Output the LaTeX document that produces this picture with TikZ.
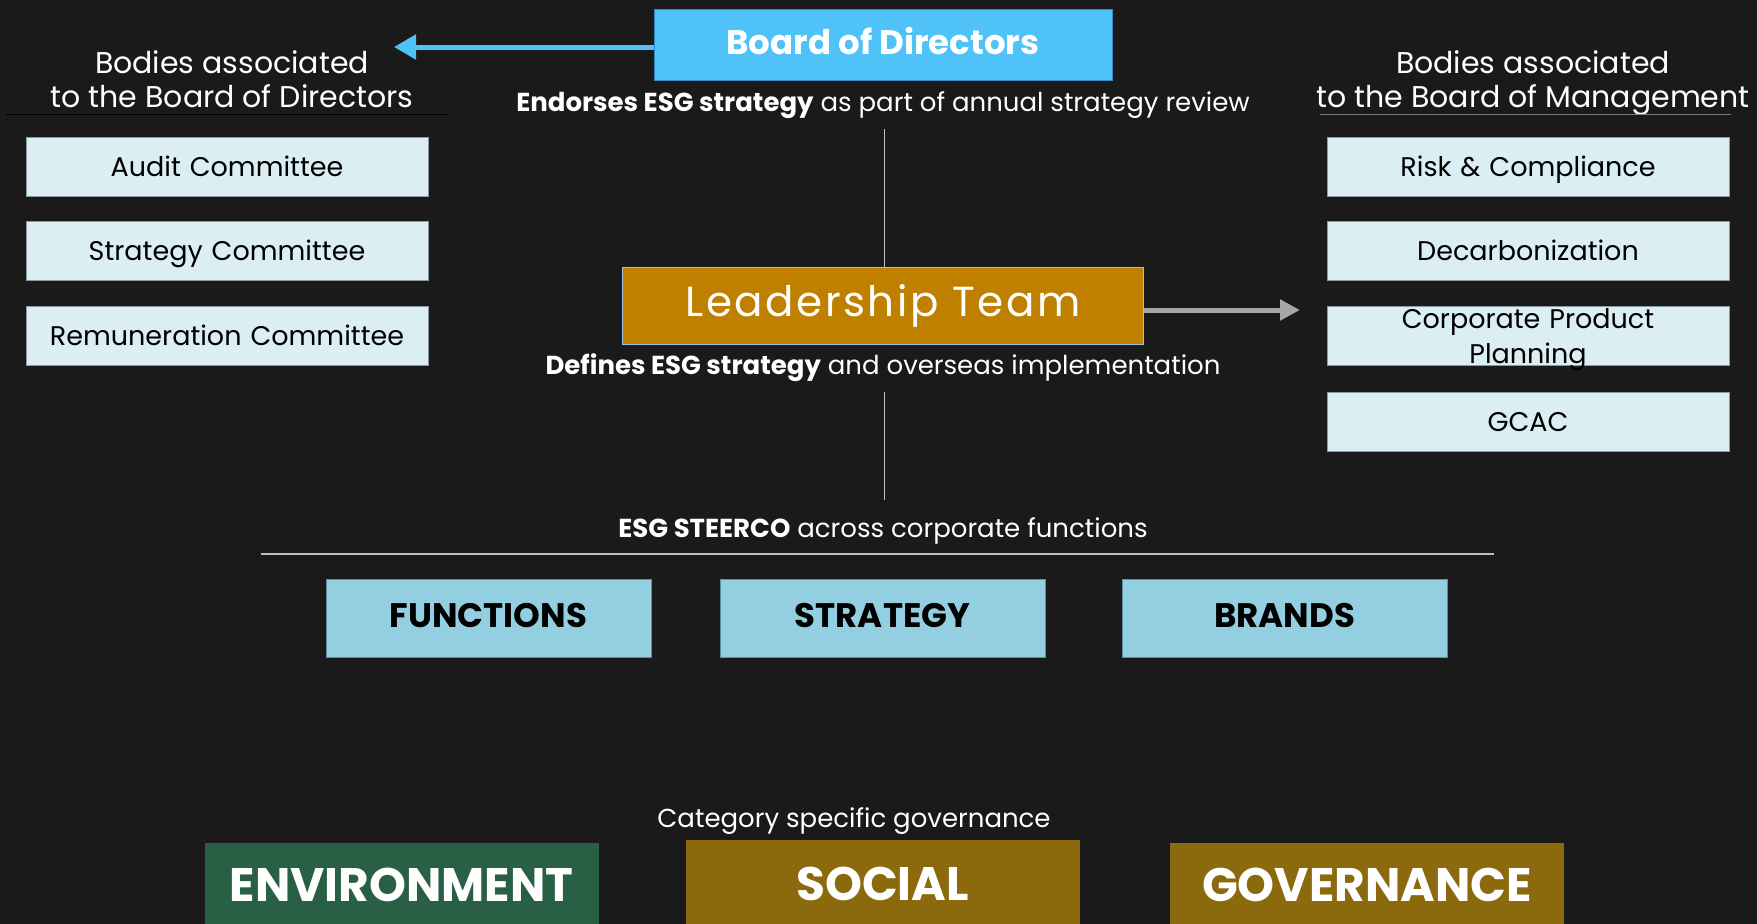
\documentclass[tikz,border=0pt]{standalone}
\usepackage{fontspec}
\setmainfont{Poppins}
\usetikzlibrary{arrows.meta}
\definecolor{bgdark}{HTML}{1A1A1A}
\definecolor{boardblue}{HTML}{4FC3F7}
\definecolor{boardedge}{HTML}{2E8FC0}
\definecolor{paleblue}{HTML}{DAEEF3}
\definecolor{paleedge}{HTML}{8A9A9E}
\definecolor{leadgold}{HTML}{BF8000}
\definecolor{leadedge}{HTML}{9DC3E6}
\definecolor{steerblue}{HTML}{94CFE1}
\definecolor{steeredge}{HTML}{5F8E9C}
\definecolor{envgreen}{HTML}{285F45}
\definecolor{ochre}{HTML}{8B6A0E}
\definecolor{arrowgray}{HTML}{A6A6A6}
\definecolor{rulegray}{HTML}{BFBFBF}
\tikzset{
  committee/.style={draw=paleedge, line width=0.8pt, fill=paleblue, text=black,
    minimum width=402pt, minimum height=59pt, inner sep=0pt, font=\fontsize{27}{29}\selectfont,
    align=center, text width=390pt, text height=19pt, text depth=0pt},
  unit/.style={draw=steeredge, line width=0.8pt, fill=steerblue, text=black,
    minimum width=325pt, minimum height=78pt, inner sep=0pt, font=\bfseries\fontsize{34}{36}\selectfont,
    text height=23.8pt, text depth=5.6pt},
  pillar/.style={minimum width=394pt, minimum height=84pt, inner sep=0pt, anchor=north,
    text=white, font=\bfseries\fontsize{47}{49}\selectfont, text height=33pt, text depth=0pt},
  caption/.style={text=white, inner sep=0pt, anchor=base, font=\fontsize{26}{28}\selectfont},
  heading/.style={text=white, inner sep=0pt, anchor=north, align=center, font=\fontsize{30}{34}\selectfont},
  link/.style={draw=rulegray, line width=1pt},
}
\begin{document}
\begin{tikzpicture}[x=1pt,y=-1pt]
\useasboundingbox (0,0) rectangle (1757,924);
\fill[bgdark] (0,0) rectangle (1757,924);

% top of the hierarchy
\node[draw=boardedge, line width=0.8pt, fill=boardblue, text=white, minimum width=458pt, minimum height=71pt,
  inner sep=0pt, font=\bfseries\fontsize{34}{36}\selectfont, text height=23.8pt, text depth=5.6pt]
  (board) at (883,45) {Board of Directors};
\node[caption] (endorse) at (883,111) {\textbf{Endorses ESG strategy} as part of annual strategy review};

% bodies associated to the board of directors
\node[heading] (lefthead) at (232,50) {Bodies associated\\to the Board of Directors};
\coordinate (lrA) at (6,114);
\coordinate (lrB) at (449,114);
\draw[black, line width=1pt] (lrA) -- (lrB);
\node[committee] (audit) at (227,166.5) {Audit Committee};
\node[committee] (strat) at (227,250.5) {Strategy Committee};
\node[committee] (remun) at (227,335.5) {Remuneration Committee};

\coordinate (blueTip) at (394,47);
\draw[boardblue, line width=5pt, -{Triangle[length=22pt, width=24pt]}] (board.west |- blueTip) -- (blueTip);

% bodies associated to the board of management
\node[heading] (righthead) at (1533,50) {Bodies associated\\to the Board of Management};
\coordinate (rrA) at (1320,114);
\coordinate (rrB) at (1731,114);
\draw[arrowgray!75!black, line width=1pt] (rrA) -- (rrB);
\node[committee] (risk) at (1528,166.5) {Risk \& Compliance};
\node[committee] (decarb) at (1528,250.5) {Decarbonization};
\node[committee, font=\fontsize{27}{35}\selectfont, text height=19pt, text depth=33pt] (cpp) at (1528,335.5) {Corporate Product\\Planning};
\node[committee] (gcac) at (1528,421.5) {GCAC};

% leadership team
\node[draw=leadedge, line width=0.8pt, fill=leadgold, text=white, minimum width=521pt, minimum height=77pt,
  inner sep=0pt, font=\addfontfeature{LetterSpace=6}\fontsize{42}{44}\selectfont, text height=29.4pt, text depth=7pt]
  (lead) at (883,305.5) {Leadership Team};
\node[caption] (defines) at (883,374) {\textbf{Defines ESG strategy} and overseas implementation};
\coordinate (vtop) at (884,129);
\draw[link] (vtop) -- (lead.north -| vtop);
\coordinate (vbot) at (884,500);
\coordinate (vmid) at (884,392);
\draw[link] (vmid) -- (vbot);
\coordinate (grayTip) at (1300,310);
\draw[arrowgray, line width=5pt, -{Triangle[length=20pt, width=20pt]}] (lead.east |- grayTip) -- (grayTip);

% ESG steering committee
\node[caption] (steerco) at (883,537) {\textbf{ESG STEERCO} across corporate functions};
\coordinate (srA) at (261,554);
\coordinate (srB) at (1494,554);
\draw[rulegray, line width=1.2pt] (srA) -- (srB);
\node[unit] (functions) at (488.5,618) {FUNCTIONS};
\node[unit] (strategy) at (882.5,618) {STRATEGY};
\node[unit] (brands) at (1284.5,618) {BRANDS};

% category specific governance
\node[caption] (category) at (854,827) {Category specific governance};
\node[pillar, fill=envgreen] (env) at (401.5,843) {ENVIRONMENT};
\node[pillar, fill=ochre, minimum height=87pt] (social) at (882.5,840) {SOCIAL};
\node[pillar, fill=ochre] (gov) at (1367,843) {GOVERNANCE};
\end{tikzpicture}
\end{document}
